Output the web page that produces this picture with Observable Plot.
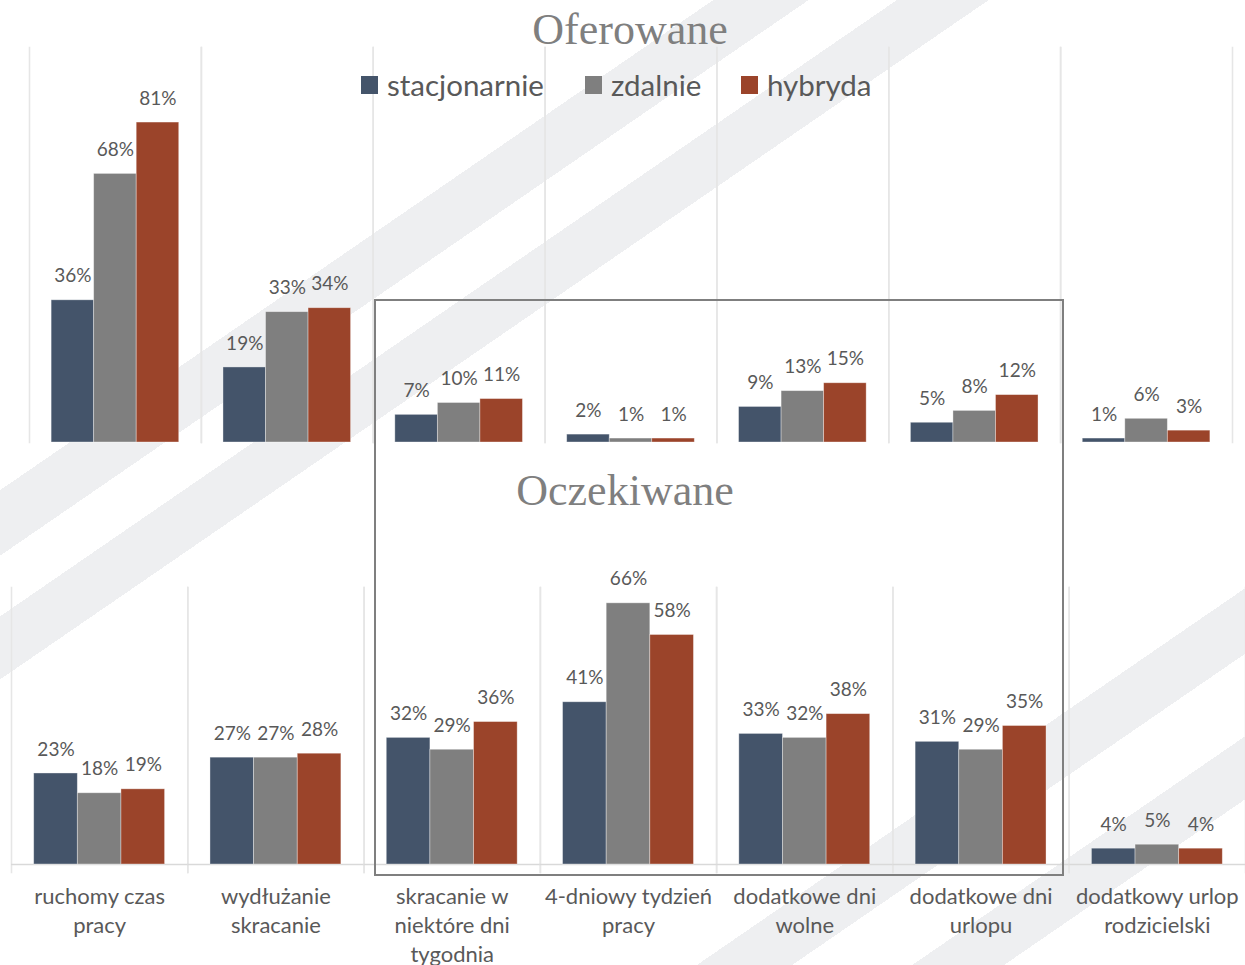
<!DOCTYPE html>
<html>
<head>
<meta charset="utf-8">
<script src="https://cdn.jsdelivr.net/npm/d3@7"></script>
<script src="https://cdn.jsdelivr.net/npm/@observablehq/plot@0.6"></script>
<style>
  body { margin: 0; background: #fff; }
  #chart {
    position: relative;
    width: 1245px;
    height: 965px;
    overflow: hidden;
    font-family: Lato, "Open Sans", sans-serif;
    /* light diagonal watermark stripes */
    background: linear-gradient(145.5deg,
      #fff 0px, #fff 404px, #eeeff1 404px, #eeeff1 458px,
      #fff 458px, #fff 508px, #eeeff1 508px, #eeeff1 560px,
      #fff 560px, #fff 1190px, #eeeff1 1190px, #eeeff1 1244px,
      #fff 1244px, #fff 1312px, #eeeff1 1312px, #eeeff1 1364px,
      #fff 1364px);
  }
  .panel { position: absolute; left: 0; }
  .title {
    position: absolute;
    transform: translateX(-50%);
    font-family: "Liberation Serif", "DejaVu Serif", serif;
    font-size: 44px;
    line-height: 1;
    color: #7f7f7f;
    white-space: nowrap;
  }
  .legend-item {
    position: absolute;
    top: 70px;
    display: flex;
    align-items: center;
    font-size: 29.5px;
    line-height: 1;
    color: #595959;
    white-space: nowrap;
  }
  .legend-item .sw { width: 17px; height: 18px; margin-right: 9px; }
  #highlight {
    position: absolute;
    left: 374px;
    top: 299px;
    width: 686px;
    height: 573px;
    border: 2px solid #7f7f7f;
    pointer-events: none;
  }
</style>
</head>
<body>
<div id="chart">
  <div class="title" style="left:630px;top:8px">Oferowane</div>
  <div id="legend"></div>
  <div class="title" style="left:625px;top:469px">Oczekiwane</div>
</div>
<script>
// Benefit categories (axis labels wrap onto several lines)
const categories = [
  "ruchomy czas pracy",
  "wydłużanie skracanie",
  "skracanie w niektóre dni tygodnia",
  "4-dniowy tydzień pracy",
  "dodatkowe dni wolne",
  "dodatkowe dni urlopu",
  "dodatkowy urlop rodzicielski"
];
const categoryLabels = [
  "ruchomy czas\npracy",
  "wydłużanie\nskracanie",
  "skracanie w\nniektóre dni\ntygodnia",
  "4-dniowy tydzień\npracy",
  "dodatkowe dni\nwolne",
  "dodatkowe dni\nurlopu",
  "dodatkowy urlop\nrodzicielski"
];

// Work modes
const seriesNames = ["stacjonarnie", "zdalnie", "hybryda"];
const seriesColors = ["#44546a", "#7f7f7f", "#9b442a"];

// Oferowane (%)
const offeredStacjonarnie = [36, 19, 7, 2, 9, 5, 1];
const offeredZdalnie      = [68, 33, 10, 1, 13, 8, 6];
const offeredHybryda      = [81, 34, 11, 1, 15, 12, 3];

// Oczekiwane (%)
const expectedStacjonarnie = [23, 27, 32, 41, 33, 31, 4];
const expectedZdalnie      = [18, 27, 29, 66, 32, 29, 5];
const expectedHybryda      = [19, 28, 36, 58, 38, 35, 4];

function tidy(seriesValues) {
  return categories.flatMap((category, i) =>
    seriesNames.map((series, j) => ({category, series, value: seriesValues[j][i]}))
  );
}

const offered = tidy([offeredStacjonarnie, offeredZdalnie, offeredHybryda]);
const expected = tidy([expectedStacjonarnie, expectedZdalnie, expectedHybryda]);

const gridColor = "#e6e6e6";
const textColor = "#595959";

function panel({data, yMax, top, height, marginTop, marginBottom, marginLeft, marginRight, withAxis}) {
  const svg = Plot.plot({
    width: 1245,
    height,
    marginTop,
    marginBottom,
    marginLeft,
    marginRight,
    style: {background: "transparent", overflow: "visible"},
    fx: {domain: categories, padding: 0, round: false, axis: null, label: null},
    x: {domain: seriesNames, paddingInner: 0, paddingOuter: 0.52, round: false, axis: null},
    y: {domain: [0, yMax], axis: null},
    color: {domain: seriesNames, range: seriesColors},
    marks: [
      // category separators
      Plot.frame({anchor: "left", stroke: gridColor, strokeWidth: 1.6, insetBottom: withAxis ? -8 : 0}),
      Plot.frame({anchor: "right", stroke: gridColor, strokeWidth: 1.6, insetBottom: withAxis ? -8 : 0}),
      withAxis ? Plot.ruleY([0], {stroke: "#d9d9d9", strokeWidth: 1.6}) : null,
      Plot.barY(data, {
        fx: "category", x: "series", y: "value", fill: "series",
        stroke: "#ffffff", strokeOpacity: 0.45, strokeWidth: 0.8
      }),
      Plot.text(data, {
        fx: "category", x: "series", y: "value",
        text: d => `${d.value}%`,
        dy: -24, fontSize: 19, fill: textColor, fontFamily: "Lato"
      }),
      withAxis ? Plot.text(categories, {
        fx: d => d,
        text: (d, i) => categoryLabels[i],
        frameAnchor: "bottom", lineAnchor: "top", dy: 19,
        lineHeight: 1.31, fontSize: 22, fill: textColor, fontFamily: "Lato"
      }) : null
    ]
  });
  svg.classList.add("panel");
  svg.style.top = `${top}px`;
  return svg;
}

const chart = document.getElementById("chart");

chart.insertBefore(panel({
  data: offered, yMax: 100, top: 0, height: 452,
  marginTop: 47, marginBottom: 10, marginLeft: 29, marginRight: 13, withAxis: false
}), chart.firstChild);

chart.insertBefore(panel({
  data: expected, yMax: 70, top: 540, height: 425,
  marginTop: 47, marginBottom: 101, marginLeft: 11, marginRight: 0, withAxis: true
}), chart.firstChild);

// legend
const legendLeft = [361, 585, 741];
const legend = document.getElementById("legend");
seriesNames.forEach((name, i) => {
  const item = document.createElement("div");
  item.className = "legend-item";
  item.style.left = `${legendLeft[i]}px`;
  const sw = document.createElement("span");
  sw.className = "sw";
  sw.style.background = seriesColors[i];
  const label = document.createElement("span");
  label.textContent = name;
  item.append(sw, label);
  legend.append(item);
});

// box around the middle four categories
const box = document.createElement("div");
box.id = "highlight";
chart.append(box);
</script>
</body>
</html>
